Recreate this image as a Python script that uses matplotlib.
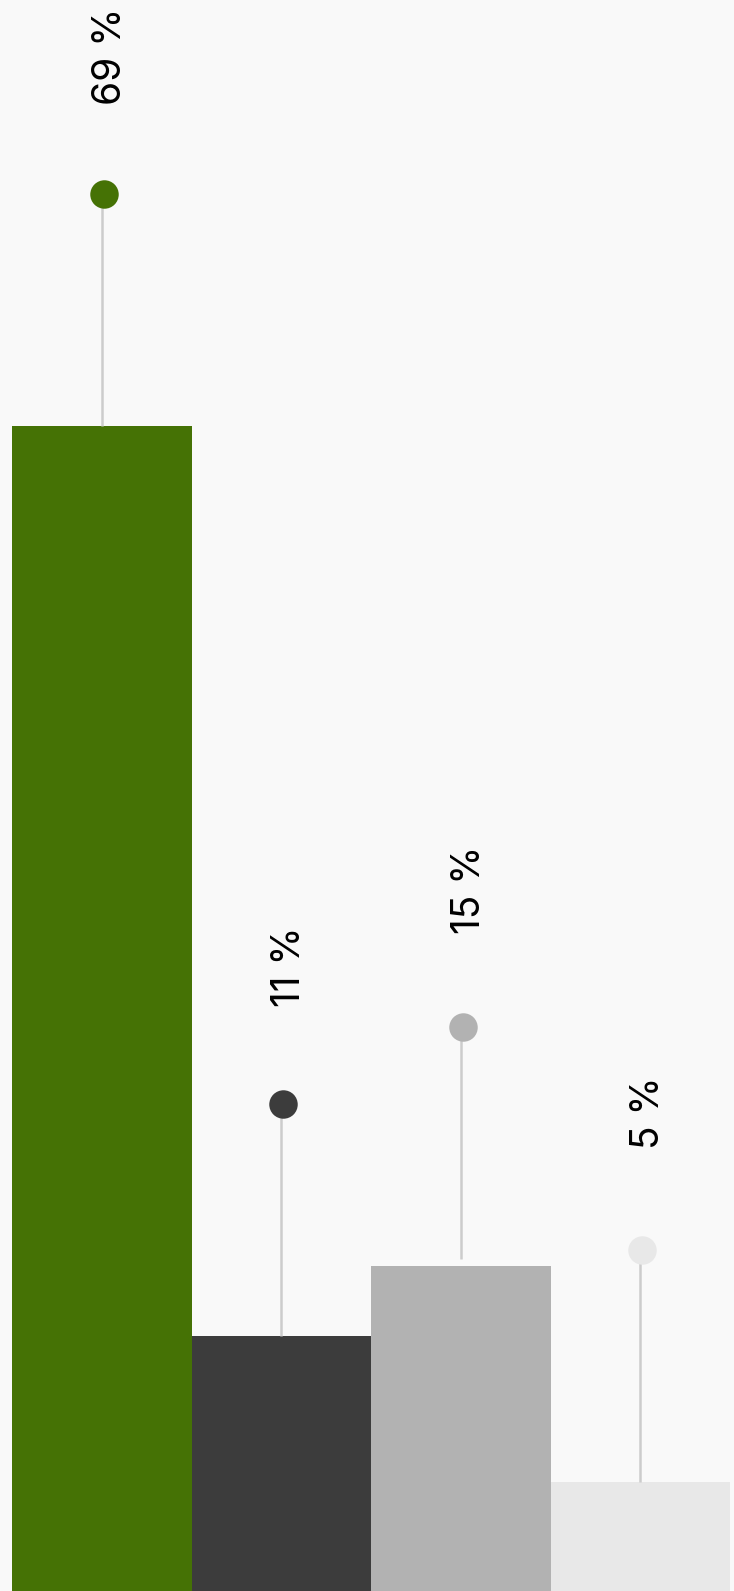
import matplotlib.pyplot as plt

# Data
labels = ['69 %', '11 %', '15 %', '5 %']
bar_heights = [73.2, 16.0, 20.4, 6.85]      # bar height, share of chart height
stem_base = [73.2, 16.0, 20.85, 6.85]       # where each lollipop starts
colors = ['#457205', '#3c3c3c', '#b2b2b2', '#e8e8e8']

stem_len = 14.6   # lollipop length, same units
bg = '#f9f9f9'

plt.rcParams['font.family'] = ['Inter', 'DejaVu Sans']

fig = plt.figure(figsize=(7.34, 15.91), dpi=100, facecolor=bg)
ax = fig.add_axes([0, 0, 1, 1])
ax.set_facecolor(bg)

x = list(range(len(labels)))
ax.bar(x, bar_heights, width=1.0, color=colors, zorder=2)

for xi, base, c, lab in zip(x, stem_base, colors, labels):
    top = base + stem_len
    ax.plot([xi, xi], [base, top], color='#cccccc', lw=1.8, zorder=3,
            solid_capstyle='butt')
    ax.plot(xi + 0.01, top, 'o', ms=20.5, color=c, mec='none', zorder=4)
    ax.annotate(lab, (xi, top), xytext=(6, 99), textcoords='offset points',
                rotation=90, ha='center', va='center', fontsize=28,
                color='black')

ax.set_xlim(-0.567, 3.522)
ax.set_ylim(0, 100)
ax.axis('off')

fig.savefig('out.png', dpi=100, facecolor=bg)
